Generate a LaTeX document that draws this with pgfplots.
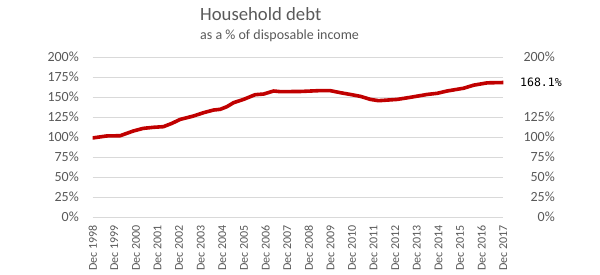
\documentclass[border=0pt]{standalone}
\usepackage{fontspec}
\setmainfont{Carlito}
\newfontfamily\monofont{DejaVu Sans Mono}
\usepackage{pgfplots}
\pgfplotsset{compat=1.18}
\definecolor{txt}{HTML}{595959}
\definecolor{gridc}{HTML}{D9D9D9}
\definecolor{dred}{HTML}{C00000}
\pgfplotstableread{
t v
0.00 98.8
0.65 101.3
1.27 101.6
1.88 107.5
2.34 110.8
2.81 112.1
3.27 112.9
3.66 117.0
4.05 122.0
4.66 126.2
5.13 130.4
5.59 133.7
5.90 134.6
6.21 137.9
6.52 142.9
6.98 147.0
7.52 152.9
7.91 153.7
8.37 157.5
8.68 156.7
9.61 156.9
10.53 158.0
11.00 157.9
11.46 155.4
12.00 152.8
12.39 150.8
12.85 147.0
13.23 145.4
14.09 147.0
14.70 149.6
15.48 153.2
15.94 154.6
16.40 157.5
17.17 161.0
17.63 164.8
18.26 167.7
19.00 168.1
}\debt
\begin{document}
\begin{tikzpicture}
\useasboundingbox (0,0) rectangle (600bp,275bp);
\node[anchor=base west, inner sep=0pt, text=txt, font=\fontsize{18.7bp}{20bp}\selectfont] at (200bp,254bp) {Household debt};
\node[anchor=base west, inner sep=0pt, text=txt, font=\fontsize{14bp}{16bp}\selectfont] at (200bp,235bp) {as a \% of disposable income};
\begin{axis}[
  at={(92.7bp,58bp)}, anchor=south west,
  scale only axis, width=410.6bp, height=160bp,
  xmin=0, xmax=19, ymin=0, ymax=200,
  axis line style={draw=none}, tick style={draw=none},
  ymajorgrids=true, xmajorgrids=false, grid style={color=gridc, line width=0.9bp},
  xtick={0,...,19},
  xticklabels={Dec 1998,Dec 1999,Dec 2000,Dec 2001,Dec 2002,Dec 2003,Dec 2004,Dec 2005,Dec 2006,Dec 2007,Dec 2008,Dec 2009,Dec 2010,Dec 2011,Dec 2012,Dec 2013,Dec 2014,Dec 2015,Dec 2016,Dec 2017},
  xticklabel style={yshift=-8bp, rotate=90, anchor=east, inner sep=0pt, text=txt, font=\fontsize{12bp}{13bp}\selectfont},
  ytick={0,25,50,75,100,125,150,175,200},
  yticklabels={0\%,25\%,50\%,75\%,100\%,125\%,150\%,175\%,200\%},
  yticklabel style={anchor=east, inner sep=0pt, xshift=-13.7bp, text=txt, font=\fontsize{14bp}{15bp}\selectfont},
]
\addplot[color=dred, line width=3.6bp, line join=round, line cap=round] table[x=t, y=v] {\debt};
\end{axis}
\begin{axis}[
  at={(92.7bp,58bp)}, anchor=south west,
  scale only axis, width=410.6bp, height=160bp,
  xmin=0, xmax=19, ymin=0, ymax=200,
  axis line style={draw=none}, tick style={draw=none},
  xtick=\empty,
  yticklabel pos=right,
  ytick={0,25,50,75,100,125,200},
  yticklabels={0\%,25\%,50\%,75\%,100\%,125\%,200\%},
  yticklabel style={anchor=east, inner sep=0pt, xshift=51.7bp, text=txt, font=\fontsize{14bp}{15bp}\selectfont},
  extra y ticks={168.1},
  extra y tick labels={168.1\%},
  extra y tick style={yticklabel style={anchor=west, xshift=-35bp, text=black, font=\monofont\fontsize{11.5bp}{13bp}\selectfont}},
]
\end{axis}
\end{tikzpicture}
\end{document}
